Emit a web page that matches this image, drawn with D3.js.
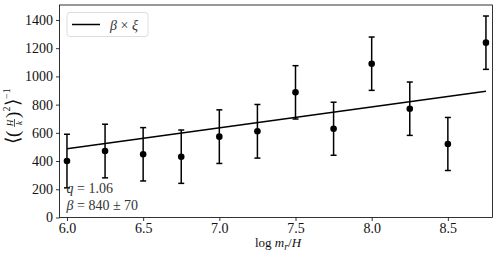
<!DOCTYPE html>
<html>
<head>
<meta charset="utf-8">
<script src="https://cdn.jsdelivr.net/npm/d3@7"></script>
<style>
  body { margin: 0; background: #fff; }
  text { font-family: "Liberation Serif", serif; }
</style>
</head>
<body>
<svg width="499" height="258"></svg>
<script>
// data
const logM = [6.0, 6.25, 6.5, 6.75, 7.0, 7.25, 7.5, 7.75, 8.0, 8.25, 8.5, 8.75];
const invH2 = [400, 471, 448, 431, 573, 611, 887, 629, 1090, 771, 521, 1239];
const errH2 = [190, 190, 189, 189, 190, 190, 189, 188, 189, 189, 188, 189];
const fitX = [6.0, 8.75];
const fitY = [488, 894];
const xTicks = [6.0, 6.5, 7.0, 7.5, 8.0, 8.5];
const yTicks = [0, 200, 400, 600, 800, 1000, 1200, 1400];
const notes = [['q', ' = 1.06'], ['β', ' = 840 ± 70']];

const svg = d3.select('svg');
const margin = { top: 5, right: 6.5, bottom: 40.5, left: 59.5 };
const width = 499, height = 258;
const plotW = width - margin.left - margin.right;
const plotH = height - margin.top - margin.bottom;

const g = svg.append('g').attr('transform', `translate(${margin.left},${margin.top})`);

const x = d3.scaleLinear().domain([5.951, 8.793]).range([0, plotW]);
const y = d3.scaleLinear().domain([0, 1506]).range([plotH, 0]);

// axes
const xAxis = g.append('g')
  .attr('transform', `translate(0,${plotH})`)
  .call(d3.axisBottom(x).tickValues(xTicks).tickFormat(d3.format('.1f')).tickSize(3.5).tickPadding(2.5));
const yAxis = g.append('g')
  .call(d3.axisLeft(y).tickValues(yTicks).tickFormat(d3.format('d')).tickSize(3.5).tickPadding(3));
[xAxis, yAxis].forEach(a => {
  a.select('.domain').remove();
  a.selectAll('line').attr('stroke', '#000').attr('stroke-width', 0.8);
  a.selectAll('text').attr('font-family', '"Liberation Serif", serif')
    .attr('font-size', 14).attr('fill', '#111');
});

// frame
g.append('rect')
  .attr('width', plotW).attr('height', plotH)
  .attr('fill', 'none').attr('stroke', '#000').attr('stroke-width', 0.8);

// fit line
g.append('line')
  .attr('x1', x(fitX[0])).attr('y1', y(fitY[0]))
  .attr('x2', x(fitX[1])).attr('y2', y(fitY[1]))
  .attr('stroke', '#000').attr('stroke-width', 1.5);

// error bars
const pts = logM.map((d, i) => ({ x: d, y: invH2[i], e: errH2[i] }));
const bars = g.append('g').attr('stroke', '#000').attr('stroke-width', 1.5);
pts.forEach(d => {
  const cx = x(d.x);
  bars.append('line').attr('x1', cx).attr('x2', cx).attr('y1', y(d.y - d.e)).attr('y2', y(d.y + d.e));
  bars.append('line').attr('x1', cx - 3).attr('x2', cx + 3).attr('y1', y(d.y - d.e)).attr('y2', y(d.y - d.e));
  bars.append('line').attr('x1', cx - 3).attr('x2', cx + 3).attr('y1', y(d.y + d.e)).attr('y2', y(d.y + d.e));
});
g.selectAll('circle.pt').data(pts).join('circle')
  .attr('class', 'pt')
  .attr('cx', d => x(d.x)).attr('cy', d => y(d.y))
  .attr('r', 3.3).attr('fill', '#000');

// annotation
const nt = g.selectAll('text.note').data(notes).join('text')
  .attr('class', 'note')
  .attr('x', 7).attr('y', (d, i) => 193 - margin.top + i * 17)
  .attr('font-size', 14).attr('fill', '#333');
nt.append('tspan').attr('font-style', 'italic').text(d => d[0]);
nt.append('tspan').text(d => d[1]);

// legend
const leg = g.append('g').attr('transform', 'translate(7.5,7.5)');
leg.append('rect').attr('width', 81).attr('height', 24).attr('rx', 3)
  .attr('fill', '#fff').attr('stroke', '#ddd').attr('stroke-width', 1);
leg.append('line').attr('x1', 5).attr('x2', 33).attr('y1', 12).attr('y2', 12)
  .attr('stroke', '#000').attr('stroke-width', 1.5);
leg.append('text').attr('x', 43).attr('y', 17).attr('font-size', 14).attr('fill', '#333')
  .html('<tspan font-style="italic">β</tspan> × <tspan font-style="italic">ξ</tspan>');

// x label
svg.append('text')
  .attr('x', margin.left + plotW / 2 + 2).attr('y', 247)
  .attr('text-anchor', 'middle').attr('font-size', 13).attr('fill', '#111')
  .html('log <tspan font-style="italic">m</tspan><tspan font-style="italic" font-size="10" dy="3">r</tspan><tspan dy="-3">/</tspan><tspan font-style="italic">H</tspan>');

// y label: <(H/k)^2>^-1, rotated
const yl = svg.append('g').attr('transform', 'translate(18,111) rotate(-90)').attr('fill', '#111');
yl.append('text').attr('x', -33).attr('y', 1).attr('font-size', 19).text('⟨(');
yl.append('text').attr('x', -12).attr('y', -5).attr('font-size', 9).attr('font-style', 'italic')
  .attr('text-anchor', 'middle').text('H');
yl.append('line').attr('x1', -16).attr('x2', -8).attr('y1', -3.5).attr('y2', -3.5)
  .attr('stroke', '#111').attr('stroke-width', 0.7);
yl.append('text').attr('x', -12).attr('y', 4).attr('font-size', 9).attr('font-style', 'italic')
  .attr('text-anchor', 'middle').text('k');
yl.append('text').attr('x', -7).attr('y', 1).attr('font-size', 19).text(')');
yl.append('text').attr('x', -0.5).attr('y', -8).attr('font-size', 10).text('2');
yl.append('text').attr('x', 5).attr('y', 1).attr('font-size', 19).text('⟩');
yl.append('text').attr('x', 12).attr('y', -8).attr('font-size', 10).text('−1');
</script>
</body>
</html>
